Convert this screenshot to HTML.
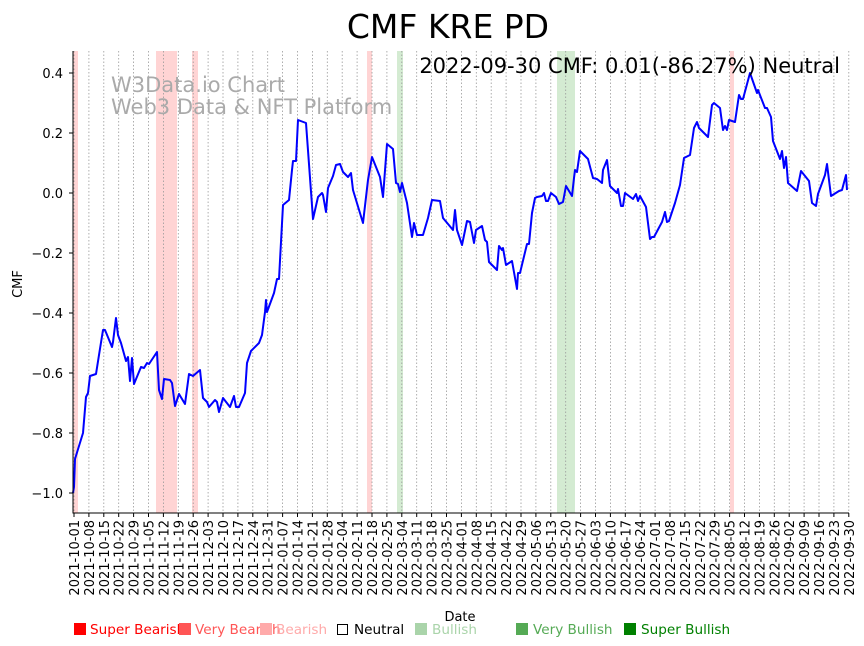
<!DOCTYPE html>
<html><head><meta charset="utf-8"><style>
html,body{margin:0;padding:0;background:#fff;}
svg{display:block;font-family:"DejaVu Sans","Liberation Sans",sans-serif;}
</style></head><body>
<svg width="864" height="646" viewBox="0 0 864 646" xmlns="http://www.w3.org/2000/svg">
<rect width="864" height="646" fill="#fff"/>
<g>
<rect x="73" y="51" width="5" height="462" fill="#ffd4d4"/>
<rect x="156" y="51" width="21" height="462" fill="#ffd4d4"/>
<rect x="192" y="51" width="6" height="462" fill="#ffd4d4"/>
<rect x="367" y="51" width="5" height="462" fill="#ffd4d4"/>
<rect x="730" y="51" width="4" height="462" fill="#ffd4d4"/>
<rect x="397" y="51" width="6" height="462" fill="#d4ebd2"/>
<rect x="557" y="51" width="18" height="462" fill="#d4ebd2"/>
</g>
<g stroke="#999" stroke-width="0.8" stroke-dasharray="1.5,2">
<line x1="74" y1="51" x2="74" y2="513"/><line x1="88.9" y1="51" x2="88.9" y2="513"/><line x1="103.8" y1="51" x2="103.8" y2="513"/><line x1="118.7" y1="51" x2="118.7" y2="513"/><line x1="133.6" y1="51" x2="133.6" y2="513"/><line x1="148.5" y1="51" x2="148.5" y2="513"/><line x1="163.4" y1="51" x2="163.4" y2="513"/><line x1="178.3" y1="51" x2="178.3" y2="513"/><line x1="193.2" y1="51" x2="193.2" y2="513"/><line x1="208.1" y1="51" x2="208.1" y2="513"/><line x1="223" y1="51" x2="223" y2="513"/><line x1="237.9" y1="51" x2="237.9" y2="513"/><line x1="252.8" y1="51" x2="252.8" y2="513"/><line x1="267.7" y1="51" x2="267.7" y2="513"/><line x1="282.6" y1="51" x2="282.6" y2="513"/><line x1="297.5" y1="51" x2="297.5" y2="513"/><line x1="312.4" y1="51" x2="312.4" y2="513"/><line x1="327.3" y1="51" x2="327.3" y2="513"/><line x1="342.2" y1="51" x2="342.2" y2="513"/><line x1="357.1" y1="51" x2="357.1" y2="513"/><line x1="372" y1="51" x2="372" y2="513"/><line x1="386.9" y1="51" x2="386.9" y2="513"/><line x1="401.8" y1="51" x2="401.8" y2="513"/><line x1="416.7" y1="51" x2="416.7" y2="513"/><line x1="431.6" y1="51" x2="431.6" y2="513"/><line x1="446.5" y1="51" x2="446.5" y2="513"/><line x1="461.4" y1="51" x2="461.4" y2="513"/><line x1="476.3" y1="51" x2="476.3" y2="513"/><line x1="491.2" y1="51" x2="491.2" y2="513"/><line x1="506.1" y1="51" x2="506.1" y2="513"/><line x1="521" y1="51" x2="521" y2="513"/><line x1="535.9" y1="51" x2="535.9" y2="513"/><line x1="550.8" y1="51" x2="550.8" y2="513"/><line x1="565.7" y1="51" x2="565.7" y2="513"/><line x1="580.6" y1="51" x2="580.6" y2="513"/><line x1="595.5" y1="51" x2="595.5" y2="513"/><line x1="610.4" y1="51" x2="610.4" y2="513"/><line x1="625.3" y1="51" x2="625.3" y2="513"/><line x1="640.2" y1="51" x2="640.2" y2="513"/><line x1="655.1" y1="51" x2="655.1" y2="513"/><line x1="670" y1="51" x2="670" y2="513"/><line x1="684.9" y1="51" x2="684.9" y2="513"/><line x1="699.8" y1="51" x2="699.8" y2="513"/><line x1="714.7" y1="51" x2="714.7" y2="513"/><line x1="729.6" y1="51" x2="729.6" y2="513"/><line x1="744.5" y1="51" x2="744.5" y2="513"/><line x1="759.4" y1="51" x2="759.4" y2="513"/><line x1="774.3" y1="51" x2="774.3" y2="513"/><line x1="789.2" y1="51" x2="789.2" y2="513"/><line x1="804.1" y1="51" x2="804.1" y2="513"/><line x1="819" y1="51" x2="819" y2="513"/><line x1="833.9" y1="51" x2="833.9" y2="513"/><line x1="848.8" y1="51" x2="848.8" y2="513"/>
</g>
<text x="111" y="92" font-size="21" fill="#aaa">W3Data.io Chart</text>
<text x="111" y="114" font-size="21" fill="#aaa">Web3 Data &amp; NFT Platform</text>
<polyline fill="none" stroke="#0000ff" stroke-width="2" stroke-linejoin="round" points="73,493 74,487 75,459 83,433 86,397 88,393 90,376 96,374 99,355 103,330 105,330 112,347 113,342 116,318 118,335 121,343 126,361 128,357 130,381 132,358 134,384 141,367 144,368 147,363 149,364 157,352 159,390 162,399 164,379 170,380 172,383 175,406 179,394 185,404 189,374 193,376 200,370 203,398 207,402 209,407 215,400 217,402 219,412 223,398 230,407 234,396 236,407 239,407 245,393 247,363 251,351 259,343 262,335 265,312 266,300 267,312 274,293 277,279 279,279 283,205 289,200 292,170 293,161 296,161 298,120 306,123 313,219 318,197 322,193 323,195 326,212 328,188 333,176 336,165 340,164 343,172 348,177 351,173 353,190 363,223 368,180 372,157 380,177 383,197 387,144 393,149 396,183 398,184 400,192 402,183 407,203 412,237 414,223 417,235 423,235 428,218 432,200 440,201 443,218 453,230 455,210 457,230 462,245 467,221 470,222 474,243 476,230 482,226 485,240 487,242 489,262 497,270 499,246 502,250 503,248 506,265 512,261 517,289 518,273 520,273 527,244 529,244 532,213 535,198 537,197 542,196 544,193 546,201 548,201 551,193 556,197 559,204 563,202 566,186 572,196 574,178 575,170 577,172 580,151 588,159 593,178 597,179 602,183 603,170 607,160 610,186 617,193 618,189 621,206 623,206 625,193 633,199 636,194 638,201 640,196 646,207 650,239 652,237 654,237 662,222 665,212 667,222 669,221 675,203 680,185 684,158 690,155 694,128 697,122 699,128 708,137 712,105 714,103 720,108 723,130 725,126 727,130 729,120 735,122 739,95 741,99 743,99 750,73 757,93 758,90 765,108 767,108 771,117 773,141 780,159 782,151 784,168 786,157 788,183 797,191 801,171 809,181 812,203 816,206 818,194 825,175 827,164 831,196 839,191 842,190 846,175 847,190"/>
<text x="840" y="73" font-size="21" text-anchor="end" fill="#000">2022-09-30 CMF: 0.01(-86.27%) Neutral</text>
<line x1="73" y1="51" x2="73" y2="513.5" stroke="#000" stroke-width="1"/>
<line x1="72.5" y1="513" x2="849" y2="513" stroke="#000" stroke-width="1"/>
<g stroke="#000" stroke-width="1">
<line x1="69" y1="73" x2="73" y2="73"/><line x1="69" y1="133" x2="73" y2="133"/><line x1="69" y1="193" x2="73" y2="193"/><line x1="69" y1="253" x2="73" y2="253"/><line x1="69" y1="313" x2="73" y2="313"/><line x1="69" y1="373" x2="73" y2="373"/><line x1="69" y1="433" x2="73" y2="433"/><line x1="69" y1="493" x2="73" y2="493"/>
</g>
<g font-size="13" text-anchor="end" fill="#000">
<text x="63" y="78">0.4</text><text x="63" y="138">0.2</text><text x="63" y="198">0.0</text><text x="63" y="258">−0.2</text><text x="63" y="318">−0.4</text><text x="63" y="378">−0.6</text><text x="63" y="438">−0.8</text><text x="63" y="498">−1.0</text>
</g>
<text transform="translate(22,284) rotate(-90)" font-size="13" text-anchor="middle">CMF</text>
<g stroke="#000" stroke-width="1">
<line x1="74" y1="513" x2="74" y2="517"/><line x1="88.9" y1="513" x2="88.9" y2="517"/><line x1="103.8" y1="513" x2="103.8" y2="517"/><line x1="118.7" y1="513" x2="118.7" y2="517"/><line x1="133.6" y1="513" x2="133.6" y2="517"/><line x1="148.5" y1="513" x2="148.5" y2="517"/><line x1="163.4" y1="513" x2="163.4" y2="517"/><line x1="178.3" y1="513" x2="178.3" y2="517"/><line x1="193.2" y1="513" x2="193.2" y2="517"/><line x1="208.1" y1="513" x2="208.1" y2="517"/><line x1="223" y1="513" x2="223" y2="517"/><line x1="237.9" y1="513" x2="237.9" y2="517"/><line x1="252.8" y1="513" x2="252.8" y2="517"/><line x1="267.7" y1="513" x2="267.7" y2="517"/><line x1="282.6" y1="513" x2="282.6" y2="517"/><line x1="297.5" y1="513" x2="297.5" y2="517"/><line x1="312.4" y1="513" x2="312.4" y2="517"/><line x1="327.3" y1="513" x2="327.3" y2="517"/><line x1="342.2" y1="513" x2="342.2" y2="517"/><line x1="357.1" y1="513" x2="357.1" y2="517"/><line x1="372" y1="513" x2="372" y2="517"/><line x1="386.9" y1="513" x2="386.9" y2="517"/><line x1="401.8" y1="513" x2="401.8" y2="517"/><line x1="416.7" y1="513" x2="416.7" y2="517"/><line x1="431.6" y1="513" x2="431.6" y2="517"/><line x1="446.5" y1="513" x2="446.5" y2="517"/><line x1="461.4" y1="513" x2="461.4" y2="517"/><line x1="476.3" y1="513" x2="476.3" y2="517"/><line x1="491.2" y1="513" x2="491.2" y2="517"/><line x1="506.1" y1="513" x2="506.1" y2="517"/><line x1="521" y1="513" x2="521" y2="517"/><line x1="535.9" y1="513" x2="535.9" y2="517"/><line x1="550.8" y1="513" x2="550.8" y2="517"/><line x1="565.7" y1="513" x2="565.7" y2="517"/><line x1="580.6" y1="513" x2="580.6" y2="517"/><line x1="595.5" y1="513" x2="595.5" y2="517"/><line x1="610.4" y1="513" x2="610.4" y2="517"/><line x1="625.3" y1="513" x2="625.3" y2="517"/><line x1="640.2" y1="513" x2="640.2" y2="517"/><line x1="655.1" y1="513" x2="655.1" y2="517"/><line x1="670" y1="513" x2="670" y2="517"/><line x1="684.9" y1="513" x2="684.9" y2="517"/><line x1="699.8" y1="513" x2="699.8" y2="517"/><line x1="714.7" y1="513" x2="714.7" y2="517"/><line x1="729.6" y1="513" x2="729.6" y2="517"/><line x1="744.5" y1="513" x2="744.5" y2="517"/><line x1="759.4" y1="513" x2="759.4" y2="517"/><line x1="774.3" y1="513" x2="774.3" y2="517"/><line x1="789.2" y1="513" x2="789.2" y2="517"/><line x1="804.1" y1="513" x2="804.1" y2="517"/><line x1="819" y1="513" x2="819" y2="517"/><line x1="833.9" y1="513" x2="833.9" y2="517"/><line x1="848.8" y1="513" x2="848.8" y2="517"/>
</g>
<g font-size="13" text-anchor="end" fill="#000">
<text transform="translate(79,520) rotate(-90)">2021-10-01</text>
<text transform="translate(93.9,520) rotate(-90)">2021-10-08</text>
<text transform="translate(108.8,520) rotate(-90)">2021-10-15</text>
<text transform="translate(123.7,520) rotate(-90)">2021-10-22</text>
<text transform="translate(138.6,520) rotate(-90)">2021-10-29</text>
<text transform="translate(153.5,520) rotate(-90)">2021-11-05</text>
<text transform="translate(168.4,520) rotate(-90)">2021-11-12</text>
<text transform="translate(183.3,520) rotate(-90)">2021-11-19</text>
<text transform="translate(198.2,520) rotate(-90)">2021-11-26</text>
<text transform="translate(213.1,520) rotate(-90)">2021-12-03</text>
<text transform="translate(228,520) rotate(-90)">2021-12-10</text>
<text transform="translate(242.9,520) rotate(-90)">2021-12-17</text>
<text transform="translate(257.8,520) rotate(-90)">2021-12-24</text>
<text transform="translate(272.7,520) rotate(-90)">2021-12-31</text>
<text transform="translate(287.6,520) rotate(-90)">2022-01-07</text>
<text transform="translate(302.5,520) rotate(-90)">2022-01-14</text>
<text transform="translate(317.4,520) rotate(-90)">2022-01-21</text>
<text transform="translate(332.3,520) rotate(-90)">2022-01-28</text>
<text transform="translate(347.2,520) rotate(-90)">2022-02-04</text>
<text transform="translate(362.1,520) rotate(-90)">2022-02-11</text>
<text transform="translate(377,520) rotate(-90)">2022-02-18</text>
<text transform="translate(391.9,520) rotate(-90)">2022-02-25</text>
<text transform="translate(406.8,520) rotate(-90)">2022-03-04</text>
<text transform="translate(421.7,520) rotate(-90)">2022-03-11</text>
<text transform="translate(436.6,520) rotate(-90)">2022-03-18</text>
<text transform="translate(451.5,520) rotate(-90)">2022-03-25</text>
<text transform="translate(466.4,520) rotate(-90)">2022-04-01</text>
<text transform="translate(481.3,520) rotate(-90)">2022-04-08</text>
<text transform="translate(496.2,520) rotate(-90)">2022-04-15</text>
<text transform="translate(511.1,520) rotate(-90)">2022-04-22</text>
<text transform="translate(526,520) rotate(-90)">2022-04-29</text>
<text transform="translate(540.9,520) rotate(-90)">2022-05-06</text>
<text transform="translate(555.8,520) rotate(-90)">2022-05-13</text>
<text transform="translate(570.7,520) rotate(-90)">2022-05-20</text>
<text transform="translate(585.6,520) rotate(-90)">2022-05-27</text>
<text transform="translate(600.5,520) rotate(-90)">2022-06-03</text>
<text transform="translate(615.4,520) rotate(-90)">2022-06-10</text>
<text transform="translate(630.3,520) rotate(-90)">2022-06-17</text>
<text transform="translate(645.2,520) rotate(-90)">2022-06-24</text>
<text transform="translate(660.1,520) rotate(-90)">2022-07-01</text>
<text transform="translate(675,520) rotate(-90)">2022-07-08</text>
<text transform="translate(689.9,520) rotate(-90)">2022-07-15</text>
<text transform="translate(704.8,520) rotate(-90)">2022-07-22</text>
<text transform="translate(719.7,520) rotate(-90)">2022-07-29</text>
<text transform="translate(734.6,520) rotate(-90)">2022-08-05</text>
<text transform="translate(749.5,520) rotate(-90)">2022-08-12</text>
<text transform="translate(764.4,520) rotate(-90)">2022-08-19</text>
<text transform="translate(779.3,520) rotate(-90)">2022-08-26</text>
<text transform="translate(794.2,520) rotate(-90)">2022-09-02</text>
<text transform="translate(809.1,520) rotate(-90)">2022-09-09</text>
<text transform="translate(824,520) rotate(-90)">2022-09-16</text>
<text transform="translate(838.9,520) rotate(-90)">2022-09-23</text>
<text transform="translate(853.8,520) rotate(-90)">2022-09-30</text>
</g>
<text x="460" y="621" font-size="13" text-anchor="middle">Date</text>
<text x="448" y="38" font-size="33" text-anchor="middle">CMF KRE PD</text>
<g font-size="13.6">
<rect x="74" y="623" width="12" height="12" fill="#ff0000"/><text x="90" y="634" fill="#ff0000">Super Bearish</text>
<rect x="179" y="623" width="12" height="12" fill="#ff5555"/><text x="195" y="634" fill="#ff5555">Very Bearish</text>
<rect x="260" y="623" width="12" height="12" fill="#ffaaaa"/><text x="276" y="634" fill="#ffaaaa">Bearish</text>
<rect x="337.5" y="624.5" width="10" height="10" fill="none" stroke="#000" stroke-width="1"/><text x="354" y="634" fill="#000">Neutral</text>
<rect x="415" y="623" width="12" height="12" fill="#aad4aa"/><text x="432" y="634" fill="#aad4aa">Bullish</text>
<rect x="516" y="623" width="12" height="12" fill="#55aa55"/><text x="533" y="634" fill="#55aa55">Very Bullish</text>
<rect x="624" y="623" width="12" height="12" fill="#008000"/><text x="641" y="634" fill="#008000">Super Bullish</text>
</g>
</svg>
</body></html>
